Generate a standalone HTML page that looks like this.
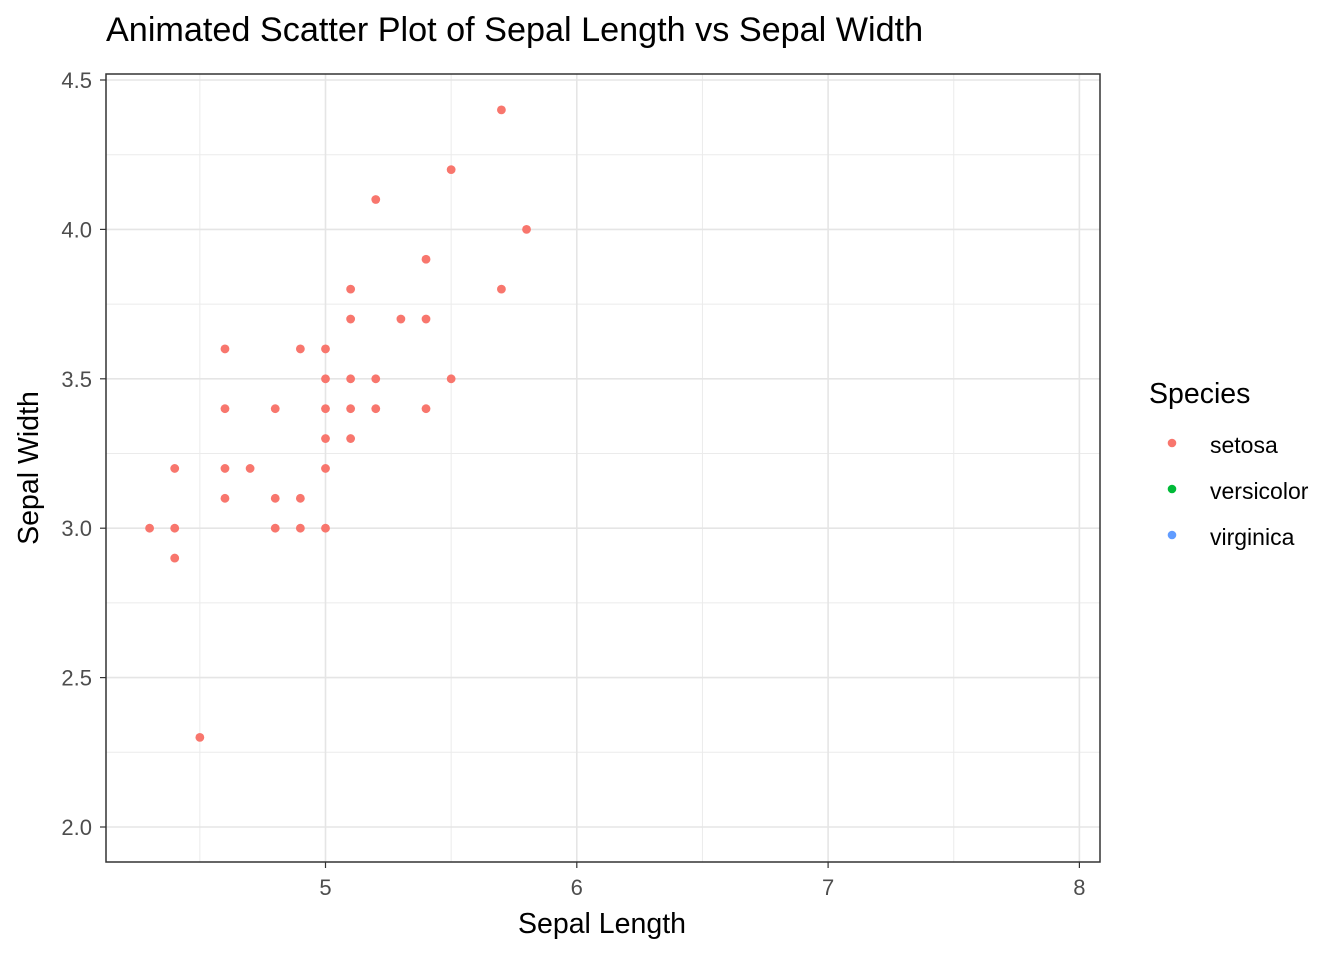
<!DOCTYPE html>
<html><head><meta charset="utf-8"><style>
body{margin:0;background:#fff;font-family:"Liberation Sans",Arial,sans-serif;}
</style></head><body>
<svg id="chart" width="1344" height="960" xmlns="http://www.w3.org/2000/svg" font-family="Liberation Sans, Arial, sans-serif">
<text x="106" y="41" font-size="34.2" fill="#000">Animated Scatter Plot of Sepal Length vs Sepal Width</text>
<g id="grid"></g>
<g id="points"></g>
<rect x="106" y="74" width="994" height="788" fill="none" stroke="#333" stroke-width="1.5"/>
<g id="ticks"></g>
<text x="602" y="933" font-size="28.5" text-anchor="middle" fill="#000">Sepal Length</text>
<text transform="translate(38,468) rotate(-90)" font-size="28.5" text-anchor="middle" fill="#000">Sepal Width</text>
<g>
<text x="1149" y="403" font-size="28.5" fill="#000">Species</text>
<circle cx="1172" cy="443" r="4.3" fill="#F8766D"/>
<text x="1210" y="453" font-size="23" fill="#000">setosa</text>
<circle cx="1172" cy="489" r="4.3" fill="#00BA38"/>
<text x="1210" y="499" font-size="23" fill="#000">versicolor</text>
<circle cx="1172" cy="535" r="4.3" fill="#619CFF"/>
<text x="1210" y="545" font-size="23" fill="#000">virginica</text>
</g>
</svg>
<script>
const xTicks=[5,6,7,8];
const yTicks=[2.0,2.5,3.0,3.5,4.0,4.5];
const sepalLength=[5.7,5.5,5.2,5.8,5.4,5.1,5.7,5.1,5.3,5.4,4.6,4.9,5.0,5.0,5.1,5.2,5.5,4.6,4.8,5.0,5.1,5.2,5.4,5.0,5.1,4.4,4.6,4.7,5.0,4.6,4.8,4.9,4.3,4.4,4.8,4.9,5.0,4.4,4.5];
const sepalWidth=[4.4,4.2,4.1,4.0,3.9,3.8,3.8,3.7,3.7,3.7,3.6,3.6,3.6,3.5,3.5,3.5,3.5,3.4,3.4,3.4,3.4,3.4,3.4,3.3,3.3,3.2,3.2,3.2,3.2,3.1,3.1,3.1,3.0,3.0,3.0,3.0,3.0,2.9,2.3];
const NS='http://www.w3.org/2000/svg';
const X=v=>325.5+(v-5)*251.3;
const Y=v=>827-(v-2)*298.8;
function mk(t,a,p){const e=document.createElementNS(NS,t);for(const k in a)e.setAttribute(k,a[k]);p.appendChild(e);return e;}
const grid=document.getElementById('grid'),ticks=document.getElementById('ticks'),pts=document.getElementById('points');
for(let v=4.5;v<=8.5;v+=1){if(X(v)>106&&X(v)<1100){const l=mk('line',{x1:X(v),x2:X(v),y1:74,y2:862,stroke:'#ebebeb','stroke-width':1},grid);}}
for(let v=2.25;v<4.6;v+=0.5){const l=mk('line',{x1:106,x2:1100,y1:Y(v),y2:Y(v),stroke:'#ebebeb','stroke-width':1},grid);}
xTicks.forEach(v=>{
const g=mk('line',{x1:X(v),x2:X(v),y1:74,y2:862,stroke:'#e5e5e5','stroke-width':1.6},grid);


const tk=mk('line',{x1:X(v),x2:X(v),y1:862,y2:868,stroke:'#333','stroke-width':1.2},ticks);


const t=mk('text',{x:X(v),y:895,'font-size':22,'text-anchor':'middle',fill:'#4d4d4d'},ticks);t.textContent=v;


});
yTicks.forEach(v=>{
const g=mk('line',{x1:106,x2:1100,y1:Y(v),y2:Y(v),stroke:'#e5e5e5','stroke-width':1.6},grid);


const tk=mk('line',{x1:100,x2:106,y1:Y(v),y2:Y(v),stroke:'#333','stroke-width':1.2},ticks);


const t=mk('text',{x:92,y:Y(v)+8,'font-size':22,'text-anchor':'end',fill:'#4d4d4d'},ticks);t.textContent=v.toFixed(1);


});
sepalLength.forEach((v,i)=>{
const c=mk('circle',{cx:X(v),cy:Y(sepalWidth[i]),r:4.4,fill:'#F8766D'},pts);


});
</script>
</body></html>
